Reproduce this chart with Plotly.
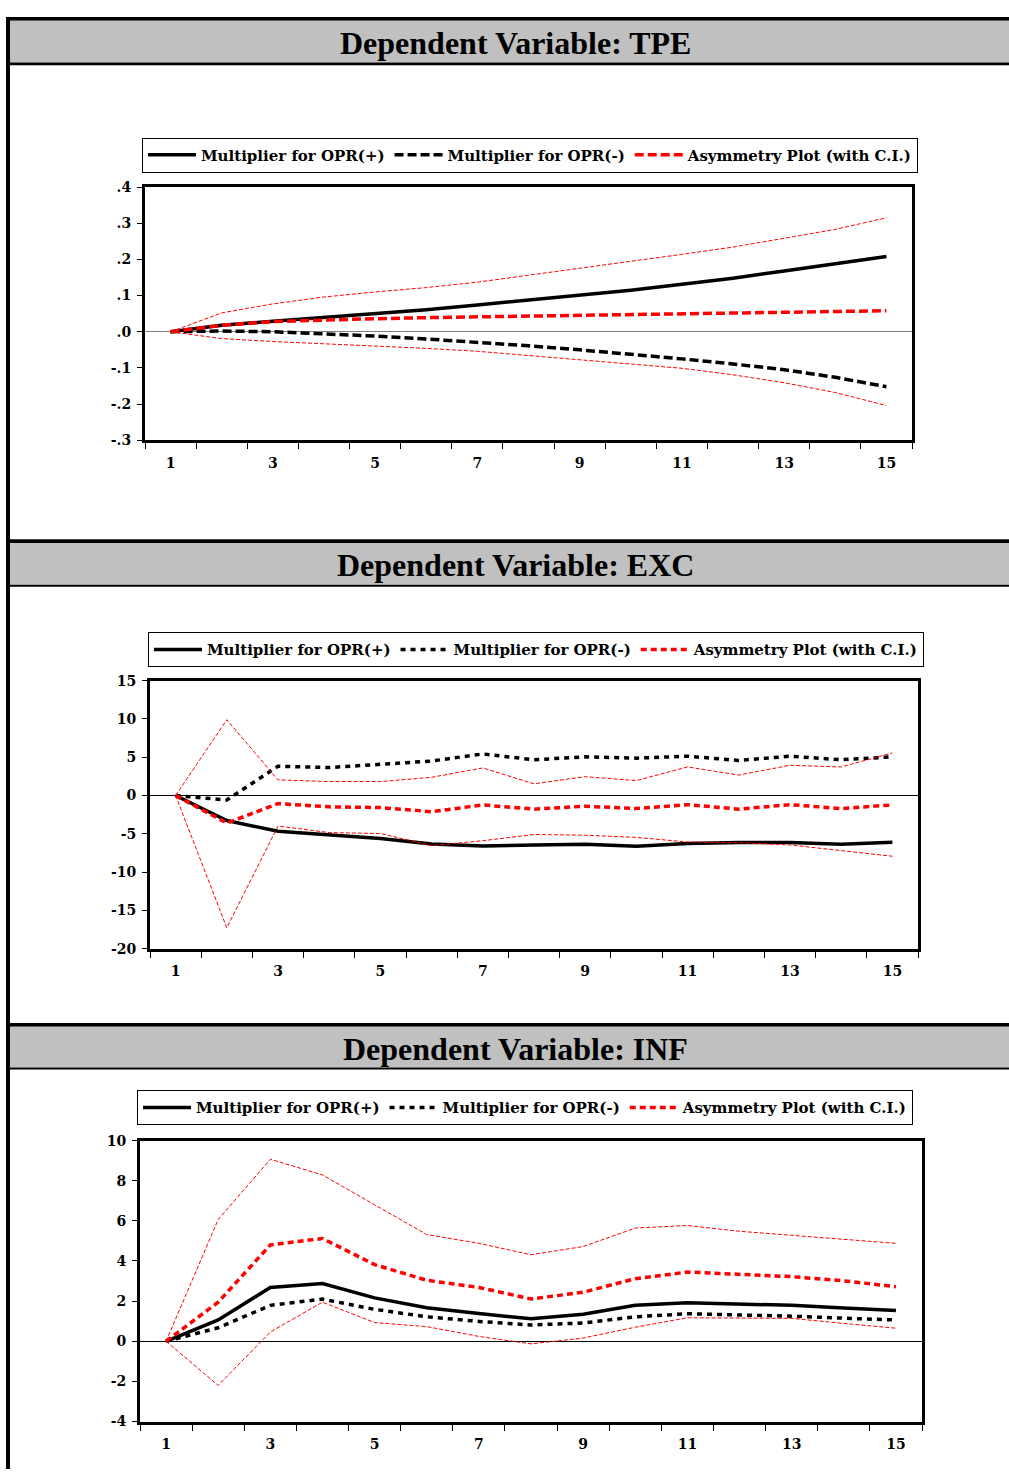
import plotly.graph_objects as go

W, H = 1009, 1477

periods = list(range(1, 16))

# ---- Dependent Variable: TPE ----
tpe_pos = [0, 0.018, 0.029, 0.039, 0.049, 0.061, 0.074, 0.087, 0.100, 0.115, 0.131, 0.148, 0.168, 0.188, 0.208]
tpe_neg = [0, 0.002, 0.0, -0.005, -0.012, -0.020, -0.029, -0.039, -0.050, -0.062, -0.075, -0.089, -0.105, -0.126, -0.152]
tpe_asym = [0, 0.018, 0.028, 0.033, 0.036, 0.039, 0.041, 0.045, 0.047, 0.048, 0.051, 0.053, 0.055, 0.056, 0.058]
tpe_up = [0, 0.052, 0.077, 0.096, 0.110, 0.122, 0.137, 0.156, 0.174, 0.194, 0.214, 0.234, 0.258, 0.283, 0.315]
tpe_lo = [0, -0.019, -0.027, -0.033, -0.039, -0.046, -0.054, -0.066, -0.077, -0.088, -0.101, -0.119, -0.141, -0.168, -0.204]
tpe_ticks = [-0.3, -0.2, -0.1, 0.0, 0.1, 0.2, 0.3, 0.4]
tpe_ticktext = ["-.3", "-.2", "-.1", ".0", ".1", ".2", ".3", ".4"]

# ---- Dependent Variable: EXC ----
exc_pos = [0, -3.27, -4.67, -5.09, -5.6, -6.32, -6.58, -6.45, -6.36, -6.62, -6.28, -6.15, -6.15, -6.36, -6.11]
exc_neg = [0, -0.59, 3.82, 3.65, 4.07, 4.5, 5.43, 4.67, 5.05, 4.88, 5.13, 4.58, 5.13, 4.67, 5.05]
exc_asym = [0, -3.6, -1.06, -1.48, -1.57, -2.12, -1.23, -1.78, -1.4, -1.7, -1.19, -1.78, -1.19, -1.7, -1.23]
exc_up = [0, 9.89, 2.04, 1.82, 1.82, 2.38, 3.6, 1.53, 2.46, 1.95, 3.73, 2.67, 3.95, 3.73, 5.56]
exc_lo = [0, -17.27, -3.99, -4.84, -4.96, -6.53, -5.9, -5.09, -5.18, -5.47, -6.07, -6.15, -6.45, -7.21, -7.93]
exc_ticks = [-20, -15, -10, -5, 0, 5, 10, 15]

# ---- Dependent Variable: INF ----
inf_pos = [0, 1.06, 2.68, 2.88, 2.16, 1.67, 1.38, 1.12, 1.35, 1.79, 1.92, 1.85, 1.79, 1.66, 1.53]
inf_neg = [0, 0.67, 1.79, 2.1, 1.59, 1.22, 0.99, 0.81, 0.91, 1.22, 1.37, 1.33, 1.25, 1.15, 1.06]
inf_asym = [0, 1.95, 4.8, 5.12, 3.82, 3.04, 2.68, 2.11, 2.44, 3.12, 3.45, 3.33, 3.22, 3.01, 2.72]
inf_up = [0, 6.07, 9.07, 8.29, 6.8, 5.32, 4.88, 4.31, 4.72, 5.64, 5.77, 5.48, 5.28, 5.07, 4.88]
inf_lo = [0, -2.2, 0.46, 1.95, 0.93, 0.73, 0.24, -0.13, 0.16, 0.7, 1.17, 1.17, 1.14, 0.89, 0.65]
inf_ticks = [-4, -2, 0, 2, 4, 6, 8, 10]

x_ticks = [1, 3, 5, 7, 9, 11, 13, 15]
x_minor = [k + 0.5 for k in range(0, 16)]

titles = ["Dependent Variable: TPE", "Dependent Variable: EXC", "Dependent Variable: INF"]
legend_names = ["Multiplier for OPR(+)", "Multiplier for OPR(-)", "Asymmetry Plot (with C.I.)"]


def fx(px):
    return px / W


def fy(py):
    return 1 - py / H


TICKFONT = dict(family="DejaVu Serif", size=14, color="black", weight="bold")

panels = [
    dict(data=(tpe_pos, tpe_neg, tpe_asym, tpe_up, tpe_lo), box=(145, 912, 181, 437),
         yr=[-0.3, 0.4], yt=tpe_ticks, ytt=tpe_ticktext, zc="#808080",
         dash_b="9px,4px", dash_r="9px,4px", legend_xy=(142, 131)),
    dict(data=(exc_pos, exc_neg, exc_asym, exc_up, exc_lo), box=(150, 918, 680, 951),
         yr=[-20, 15], yt=exc_ticks, ytt=[str(v) for v in exc_ticks], zc="black",
         dash_b="5px,5px", dash_r="6px,4px", legend_xy=(148, 631)),
    dict(data=(inf_pos, inf_neg, inf_asym, inf_up, inf_lo), box=(140, 922, 1145, 1429),
         yr=[-4, 10], yt=inf_ticks, ytt=[str(v) for v in inf_ticks], zc="black",
         dash_b="5px,5px", dash_r="6px,4px", legend_xy=(137, 1094)),
]

fig = go.Figure()
layout_extra = {}

for i, p in enumerate(panels):
    n = "" if i == 0 else str(i + 1)
    xa, ya = "x" + n, "y" + n
    lg = "legend" + n
    pos, neg, asym, up, lo = p["data"]
    fig.add_trace(go.Scatter(x=periods, y=pos, mode="lines", name=legend_names[0],
                             line=dict(color="black", width=3.5), xaxis=xa, yaxis=ya, legend=lg))
    fig.add_trace(go.Scatter(x=periods, y=neg, mode="lines", name=legend_names[1],
                             line=dict(color="black", width=3.5, dash=p["dash_b"]), xaxis=xa, yaxis=ya, legend=lg))
    fig.add_trace(go.Scatter(x=periods, y=asym, mode="lines", name=legend_names[2],
                             line=dict(color="#ff0000", width=3.5, dash=p["dash_r"]), xaxis=xa, yaxis=ya, legend=lg))
    fig.add_trace(go.Scatter(x=periods, y=up, mode="lines", showlegend=False,
                             line=dict(color="#ff0000", width=1, dash="4px,2px"), xaxis=xa, yaxis=ya))
    fig.add_trace(go.Scatter(x=periods, y=lo, mode="lines", showlegend=False,
                             line=dict(color="#ff0000", width=1, dash="4px,2px"), xaxis=xa, yaxis=ya))

    x0, x1, y0, y1 = p["box"]
    layout_extra["xaxis" + n] = dict(
        domain=[fx(x0), fx(x1)], anchor=ya, range=[0.5, 15.5],
        tickmode="array", tickvals=x_ticks, ticktext=[str(v) for v in x_ticks],
        ticks="", ticklabelstandoff=8, tickfont=TICKFONT,
        minor=dict(tickmode="array", tickvals=x_minor, ticks="outside", ticklen=6,
                   tickwidth=1, tickcolor="black"),
        showline=True, linecolor="black", linewidth=3, mirror=True,
        showgrid=False, zeroline=False, fixedrange=True,
    )
    layout_extra["yaxis" + n] = dict(
        domain=[fy(y1), fy(y0)], anchor=xa, range=p["yr"],
        tickmode="array", tickvals=p["yt"], ticktext=p["ytt"],
        ticks="outside", ticklen=5, tickwidth=1, tickcolor="black",
        ticklabelstandoff=3, tickfont=TICKFONT,
        showline=True, linecolor="black", linewidth=3, mirror=True,
        showgrid=False, zeroline=True, zerolinecolor=p["zc"], zerolinewidth=1.2,
        fixedrange=True,
    )
    lx, ly = p["legend_xy"]
    layout_extra[lg] = dict(
        x=fx(lx), y=fy(ly), xanchor="left", yanchor="top", orientation="h",
        bordercolor="black", borderwidth=1, bgcolor="white",
        font=dict(family="DejaVu Serif", size=15, color="black", weight="bold"),
        itemwidth=48, tracegroupgap=0,
    )

# Page decorations (frame and grey header bands)
shapes = []


def rect(x0, y0, x1, y1, color):
    shapes.append(dict(type="rect", xref="paper", yref="paper", x0=fx(x0), x1=fx(x1),
                       y0=fy(y1), y1=fy(y0), fillcolor=color, line=dict(width=0), layer="below"))


rect(6, 9, W, 13, "black")
rect(10, 13, W, 55, "#c0c0c0")
rect(10, 55, W, 58, "black")
rect(6, 537, W, 541, "black")
rect(10, 541, W, 583, "#c0c0c0")
rect(10, 583, W, 585, "black")
rect(6, 1026, W, 1030, "black")
rect(10, 1030, W, 1071, "#c0c0c0")
rect(10, 1071, W, 1073, "black")
rect(6, 9, 10, H, "black")

annotations = []
for t, cy in zip(titles, [35, 563, 1052]):
    annotations.append(dict(text=t, xref="paper", yref="paper", x=fx(515), y=fy(cy),
                            xanchor="center", yanchor="middle", showarrow=False,
                            font=dict(family="Liberation Serif", size=32, color="black", weight="bold")))

fig.update_layout(
    width=W, height=H, margin=dict(l=0, r=0, t=0, b=0),
    paper_bgcolor="white", plot_bgcolor="white",
    shapes=shapes, annotations=annotations,
    **layout_extra,
)

post = (
    "document.documentElement.style.margin='0';"
    "document.documentElement.style.overflow='hidden';"
    "document.body.style.margin='0';document.body.style.padding='0';"
    "document.body.style.overflow='hidden';"
    "var d=document.getElementById('{plot_id}');"
    "d.style.position='fixed';d.style.top='0px';d.style.left='0px';"
)

fig.write_html("out.html", config={"displayModeBar": False, "responsive": False},
               post_script=post)
